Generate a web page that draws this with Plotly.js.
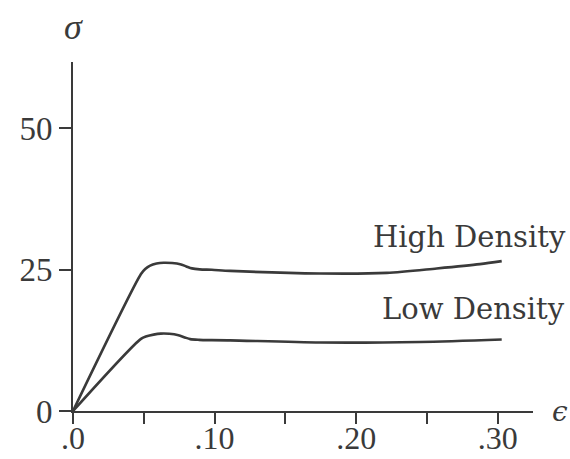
<!DOCTYPE html>
<html>
<head>
<meta charset="utf-8">
<script src="https://cdn.plot.ly/plotly-3.0.1.min.js"></script>
<style>html,body{margin:0;padding:0;background:#fff;}#chart{width:570px;height:459px;}</style>
</head>
<body>
<div id="chart"></div>
<script>
// Strain values (epsilon) and stress values (sigma)
const highStrain = [0, 0.0480, 0.0510, 0.0545, 0.0590, 0.0640, 0.0700, 0.0757, 0.0800, 0.0840, 0.0895, 0.0980, 0.111, 0.1745, 0.2216, 0.2569, 0.2874, 0.3028];
const highStress = [0, 24.2, 25.1, 25.7, 26.05, 26.2, 26.15, 25.95, 25.55, 25.2, 25.03, 24.95, 24.76, 24.30, 24.41, 25.19, 25.95, 26.48];
const lowStrain = [0, 0.0480, 0.0520, 0.0569, 0.0620, 0.0680, 0.0745, 0.0790, 0.0828, 0.0890, 0.0980, 0.111, 0.1745, 0.2451, 0.3028];
const lowStress = [0, 12.75, 13.2, 13.5, 13.68, 13.65, 13.39, 13.0, 12.7, 12.57, 12.52, 12.48, 12.10, 12.20, 12.63];
const xTickVals = [0, 0.05, 0.10, 0.15, 0.20, 0.25, 0.30];
const xTickText = ['.0', '', '.10', '', '.20', '', '.30'];
const yTickVals = [0, 25, 50];
const yTickText = ['0', '25', '50'];
const seriesNames = ['High Density', 'Low Density'];

const lineStyle = {color: '#3a3a3a', width: 2.6, shape: 'spline', smoothing: 0.8};
const traces = [
  {x: highStrain, y: highStress, name: seriesNames[0], mode: 'lines', line: lineStyle, cliponaxis: false},
  {x: lowStrain, y: lowStress, name: seriesNames[1], mode: 'lines', line: lineStyle, cliponaxis: false}
];

const serif = '"Liberation Serif", "Times New Roman", serif';
const layout = {
  width: 570, height: 459,
  margin: {l: 73, r: 37, t: 62, b: 48},
  paper_bgcolor: '#fff', plot_bgcolor: '#fff',
  showlegend: false,
  font: {family: serif, color: '#3a3a3a'},
  xaxis: {
    range: [0, 0.3249], showgrid: false, zeroline: false,
    showline: true, linecolor: '#3a3a3a', linewidth: 2,
    ticks: 'outside', ticklen: 11, tickwidth: 2, tickcolor: '#3a3a3a',
    tickvals: xTickVals, ticktext: xTickText, ticklabelstandoff: -13,
    tickfont: {family: serif, size: 32, color: '#3a3a3a'}
  },
  yaxis: {
    range: [0, 61.67], showgrid: false, zeroline: false,
    showline: true, linecolor: '#3a3a3a', linewidth: 2,
    ticks: 'outside', ticklen: 12, tickwidth: 2, tickcolor: '#3a3a3a',
    tickvals: yTickVals, ticktext: yTickText,
    tickfont: {family: serif, size: 33, color: '#3a3a3a'}
  },
  annotations: [
    {text: seriesNames[0], xref: 'paper', yref: 'paper', x: 1.0768, y: 0.500, xanchor: 'right', yanchor: 'middle', showarrow: false,
     font: {family: '"DejaVu Serif", serif', size: 29, color: '#3a3a3a'}},
    {text: seriesNames[1], xref: 'paper', yref: 'paper', x: 1.0746, y: 0.2934, xanchor: 'right', yanchor: 'middle', showarrow: false,
     font: {family: '"DejaVu Serif", serif', size: 29, color: '#3a3a3a'}},
    {text: 'σ', xref: 'paper', yref: 'paper', x: 0, y: 1.1003, xanchor: 'center', yanchor: 'middle', showarrow: false,
     font: {family: serif, size: 36, style: 'italic', color: '#3a3a3a'}},
    {text: 'ϵ', xref: 'paper', yref: 'paper', x: 1.0587, y: 0, xanchor: 'center', yanchor: 'middle', showarrow: false,
     font: {family: '"DejaVu Serif", serif', size: 28, style: 'italic', color: '#3a3a3a'}}
  ]
};
Plotly.newPlot('chart', traces, layout, {displayModeBar: false, staticPlot: true});
</script>
</body>
</html>
